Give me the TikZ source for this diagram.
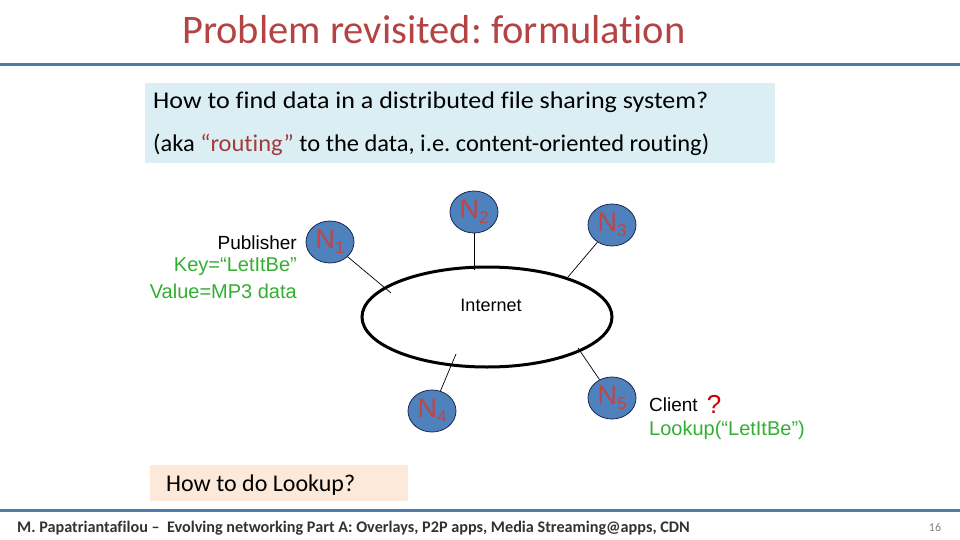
\documentclass[tikz,border=0pt]{standalone}
\usepackage{fontspec}
\setmainfont{Carlito}[Ligatures=NoCommon]
\newfontfamily\arialf{Liberation Sans}
\usetikzlibrary{shapes.geometric}
\frenchspacing
\definecolor{titlered}{RGB}{180,68,68}
\definecolor{barblue}{RGB}{79,123,168}
\definecolor{boxblue}{RGB}{218,238,243}
\definecolor{boxpeach}{RGB}{253,233,217}
\definecolor{nodeblue}{RGB}{79,129,189}
\definecolor{nodeedge}{RGB}{30,40,80}
\definecolor{nred}{RGB}{192,70,70}
\definecolor{kgreen}{RGB}{50,175,50}
\definecolor{footgray}{RGB}{50,50,50}
\tikzset{
  peer/.style={ellipse, fill=nodeblue, draw=nodeedge, line width=0.8pt,
    minimum width=48pt, minimum height=42pt, inner sep=0pt,
    text=nred, font=\arialf\fontsize{27}{27}\selectfont},
  link/.style={draw=black, line width=0.7pt},
  arial/.style={font=\arialf\fontsize{19}{22}\selectfont, inner sep=0pt},
  green/.style={arial, text=kgreen, font=\arialf\fontsize{20}{22}\selectfont},
  boxtext/.style={anchor=west, font=\fontsize{24}{26}\selectfont, inner sep=0pt},
}
\newcommand{\nlab}[1]{N\raisebox{-5pt}{\fontsize{17}{17}\selectfont #1}}
\begin{document}
\begin{tikzpicture}[x=1pt,y=-1pt]
\useasboundingbox (0,0) rectangle (960,540);
% title
\node[anchor=west, text=titlered, font=\fontsize{40.5}{42}\selectfont, inner sep=0pt] (title) at (182,30) {Problem revisited: formulation};
\draw[barblue, line width=3pt] (0,65) -- (960,65);
% question box
\fill[boxblue] (145,83) rectangle (775,163);
\node[boxtext] (q1) at (153,102) {\scalebox{1.085}[1]{How to find data in a distributed file sharing system?}};
\node[boxtext] (q2) at (153,145) {\scalebox{1.02}[1]{(aka \textcolor{nred!85!black}{“routing”} to the data, i.e. content-oriented routing)}};
% internet
\node[ellipse, draw=black, line width=3pt, minimum width=250pt, minimum height=100pt] (net) at (487,317) {};
\node[arial, font=\arialf\fontsize{18}{20}\selectfont] (inet) at (491,305) {Internet};
% peers
\node[peer] (n1) at (330,242) {\nlab{1}};
\node[peer] (n2) at (474,212) {\nlab{2}};
\node[peer] (n3) at (612,225) {\nlab{3}};
\node[peer] (n4) at (432,411) {\nlab{4}};
\node[peer] (n5) at (612,398) {\nlab{5}};
\coordinate (c1) at (391,293);
\coordinate (c2) at (474,270);
\coordinate (c3) at (568,277);
\coordinate (c4) at (456,354);
\coordinate (c5) at (578,348);
\draw[link] (n1) -- (c1);
\draw[link] (n2) -- (c2);
\draw[link] (n3) -- (c3);
\draw[link] (n4) -- (c4);
\draw[link] (n5) -- (c5);
% publisher
\node[arial, anchor=east] (pub) at (297,243) {Publisher};
\node[green, anchor=east] (key) at (297,267) {Key=“LetItBe”};
\node[green, anchor=east] (val) at (297,291) {Value=MP3 data};
% client
\node[arial, anchor=west] (cli) at (649,405) {Client};
\node[text=red!80!black, font=\arialf\fontsize{26}{26}\selectfont, inner sep=0pt] (qm) at (714,404) {?};
\node[green, anchor=west] (look) at (649,430) {Lookup(“LetItBe”)};
% lookup box
\fill[boxpeach] (150,465) rectangle (408,501);
\node[boxtext] (how) at (166,485) {How to do Lookup?};
% footer
\draw[barblue, line width=3pt] (0,510) -- (960,510);
\node[anchor=west, text=footgray, font=\bfseries\fontsize{16.2}{18}\selectfont, inner sep=0pt] (foot) at (17,528) {M. Papatriantafilou –\ \ Evolving networking Part A: Overlays, P2P apps, Media Streaming@apps, CDN};
\node[text=gray, font=\fontsize{12}{12}\selectfont, inner sep=0pt] (pg) at (935,527) {16};
\end{tikzpicture}
\end{document}
